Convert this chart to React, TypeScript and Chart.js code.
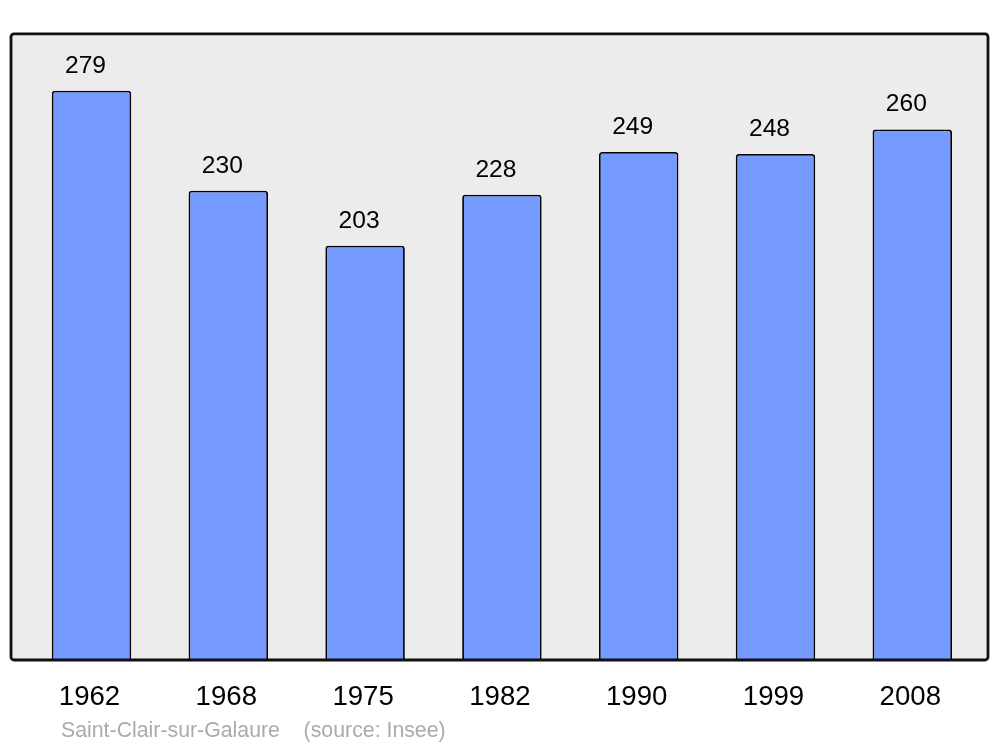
import React, { useEffect, useRef } from "react";
import { Chart, registerables } from "chart.js";

Chart.register(...registerables);

const years = ["1962", "1968", "1975", "1982", "1990", "1999", "2008"];
const population = [279, 230, 203, 228, 249, 248, 260];
const sourceText = "Saint-Clair-sur-Galaure    (source: Insee)";

const FONT = '"Liberation Sans", Arial, sans-serif';

const framePlugin = {
  id: "frame",
  beforeDatasetsDraw(chart: any) {
    const { ctx, chartArea } = chart;
    ctx.save();
    ctx.beginPath();
    ctx.roundRect(11, chartArea.top, 977, chartArea.bottom - chartArea.top, 3);
    ctx.fillStyle = "#ececec";
    ctx.fill();
    ctx.restore();
  },
  afterDatasetsDraw(chart: any) {
    const { ctx, chartArea } = chart;
    ctx.save();
    ctx.beginPath();
    ctx.roundRect(11, chartArea.top, 977, chartArea.bottom - chartArea.top, 3);
    ctx.lineWidth = 2.8;
    ctx.strokeStyle = "#111";
    ctx.stroke();

    const meta = chart.getDatasetMeta(0);
    ctx.fillStyle = "#000";
    ctx.font = `24.6px ${FONT}`;
    ctx.textAlign = "center";
    ctx.textBaseline = "alphabetic";
    meta.data.forEach((bar: any, i: number) => {
      ctx.fillText(String(population[i]), bar.x - 6, bar.y - 18);
    });

    const xScale = chart.scales.x;
    ctx.font = `27.6px ${FONT}`;
    years.forEach((y, i) => {
      ctx.fillText(y, xScale.getPixelForTick(i) - 2, chartArea.bottom + 45);
    });

    ctx.textAlign = "left";
    ctx.font = `21.3px ${FONT}`;
    ctx.fillStyle = "#ababab";
    ctx.fillText(sourceText, 61, chartArea.bottom + 77);
    ctx.restore();
  },
};

export default function App() {
  const ref = useRef<HTMLCanvasElement>(null);
  useEffect(() => {
    if (!ref.current) return;
    const chart = new Chart(ref.current, {
      type: "bar",
      data: {
        labels: years,
        datasets: [
          {
            data: population,
            backgroundColor: "#7499ff",
            borderColor: "#000",
            borderWidth: 1.8,
            borderRadius: 3,
            borderSkipped: "bottom",
            categoryPercentage: 1,
            barPercentage: 0.581,
          },
        ],
      },
      options: {
        responsive: false,
        animation: false,
        layout: { padding: { left: 23.1, right: 19.3, top: 33.8, bottom: 87 } },
        plugins: { legend: { display: false }, tooltip: { enabled: false } },
        scales: {
          x: { display: false },
          y: { display: false, min: 0, max: 306.9 },
        },
      },
      plugins: [framePlugin],
    });
    return () => chart.destroy();
  }, []);
  return (
    <div style={{ position: "fixed", left: 0, top: 0, width: 1000, height: 747, background: "#fff" }}>
      <canvas ref={ref} width={1000} height={747} style={{ display: "block" }} />
    </div>
  );
}
